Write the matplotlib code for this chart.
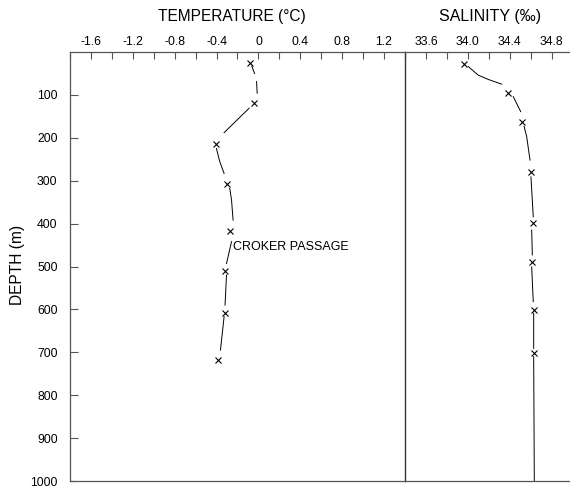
import matplotlib
matplotlib.use("Agg")
import matplotlib.pyplot as plt
import numpy as np

plt.rcParams['font.family'] = ['Liberation Sans', 'DejaVu Sans']

# ---- data ----
temp_depth = [25, 118, 215, 308, 417, 510, 608, 718]
temp_vals = [-0.082, -0.044, -0.408, -0.296, -0.274, -0.319, -0.319, -0.386]

# traced temperature curve (NaN = gaps in the drawn line)
temp_curve_t = [-0.063, -0.037, np.nan, -0.018, -0.012, np.nan, -0.089, -0.328, np.nan,
                -0.401, -0.369, -0.328, np.nan, -0.274, -0.257, -0.242, np.nan,
                -0.257, -0.305, np.nan, -0.305, -0.319, np.nan, -0.328, -0.363]
temp_curve_d = [33, 50, np.nan, 69, 96, np.nan, 131, 188, np.nan,
                225, 256, 283, np.nan, 318, 345, 392, np.nan,
                442, 493, np.nan, 520, 590, np.nan, 617, 695]

sal_depth = [29, 96, 163, 279, 399, 490, 601, 701]
sal_vals = [33.96, 34.387, 34.515, 34.60, 34.62, 34.616, 34.629, 34.629]

sal_curve_s = [34.005, 34.100, 34.196, 34.324, np.nan, 34.434, 34.505, np.nan,
               34.537, 34.562, 34.594, np.nan, 34.603, 34.625, np.nan,
               34.610, 34.616, np.nan, 34.610, 34.625, np.nan, 34.629, 34.629, np.nan,
               34.629, 34.635]
sal_curve_d = [34, 54, 64, 75, np.nan, 104, 139, np.nan,
               173, 197, 252, np.nan, 291, 384, np.nan,
               415, 473, np.nan, 501, 582, np.nan, 609, 691, np.nan,
               710, 1000]

temp_ticks = [-1.6, -1.2, -0.8, -0.4, 0, 0.4, 0.8, 1.2]
temp_tick_labels = ['-1.6', '-1.2', '-0.8', '-0.4', '0', '0.4', '0.8', '1.2']
sal_ticks = [33.6, 34.0, 34.4, 34.8]
sal_tick_labels = ['33.6', '34.0', '34.4', '34.8']
depth_ticks = [100, 200, 300, 400, 500, 600, 700, 800, 900, 1000]

# ---- figure ----
W, H = 570, 487
fig = plt.figure(figsize=(W / 100, H / 100), dpi=100)

top_px, bot_px = 52, 481
left_px, mid_px, right_px = 70.0, 405.0, 570.0
y0 = 1 - bot_px / H
hgt = (bot_px - top_px) / H

ax1 = fig.add_axes([left_px / W, y0, (mid_px - left_px) / W, hgt])
ax2 = fig.add_axes([mid_px / W, y0, (right_px - mid_px) / W, hgt])
ax2.patch.set_alpha(0)

spine_col = '#555555'
tick_fs = 8.8

for ax in (ax1, ax2):
    ax.set_ylim(1000, 0)
    ax.xaxis.tick_top()
    ax.tick_params(axis='x', direction='in', length=5, width=0.8, color=spine_col,
                   labelsize=tick_fs, pad=3)
    ax.tick_params(axis='x', which='minor', direction='in', length=5, width=0.8, color=spine_col)
    for s in ax.spines.values():
        s.set_color(spine_col)
        s.set_linewidth(0.9)

# temperature panel
ax1.set_xlim(-1.8, 1.4)
ax1.set_xticks(temp_ticks)
ax1.set_xticklabels(temp_tick_labels)
ax1.set_xticks(np.arange(-1.8, 1.41, 0.2), minor=True)
ax1.set_yticks(depth_ticks)
ax1.set_yticklabels([str(d) for d in depth_ticks])
ax1.tick_params(axis='y', direction='in', length=6, width=0.8, color=spine_col,
                labelsize=tick_fs, pad=9)
ax1.spines['right'].set_visible(False)

ax1.plot(temp_curve_t, temp_curve_d, color='black', lw=0.7)
ax1.plot(temp_vals, temp_depth, ls='none', marker='x', ms=4.6, mew=0.8, color='black')
ax1.text(-0.242, 455, 'CROKER PASSAGE', fontsize=9, va='center', ha='left')

# salinity panel
ax2.set_xlim(33.4, 33.4 + (right_px - mid_px) / 104.7)
ax2.set_xticks(sal_ticks)
ax2.set_xticklabels(sal_tick_labels)
ax2.set_xticks(np.arange(33.6, 34.85, 0.2), minor=True)
ax2.set_yticks([])
ax2.spines['left'].set_color('#333333')
ax2.spines['left'].set_linewidth(1.0)
ax2.spines['right'].set_visible(False)

ax2.plot(sal_curve_s, sal_curve_d, color='black', lw=0.7)
ax2.plot(sal_vals, sal_depth, ls='none', marker='x', ms=4.6, mew=0.8, color='black')

# titles & labels
fig.text(232 / W, 1 - 16 / H, 'TEMPERATURE (°C)', fontsize=11.2, ha='center', va='center')
fig.text(490 / W, 1 - 16 / H, 'SALINITY (‰)', fontsize=11.5, ha='center', va='center')
fig.text(18 / W, 1 - 265 / H, 'DEPTH (m)', fontsize=11.2, ha='center', va='center', rotation=90)

fig.savefig('out.png', dpi=100)
